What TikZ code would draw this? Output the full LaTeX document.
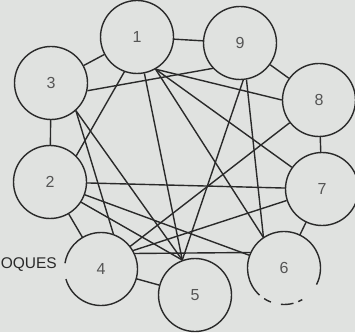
\documentclass[tikz,border=0pt]{standalone}
\usepackage{fontspec}
\setmainfont{Liberation Sans}
\usetikzlibrary{calc}
\definecolor{paper}{RGB}{224,226,224}
\definecolor{ink}{RGB}{42,42,42}
\tikzset{%
  % classes
  vertex/.style={circle, minimum size=73pt, inner sep=0pt,
    font=\fontsize{16}{18}\selectfont, text=ink!80},
  ring/.style={vertex, draw=ink, line width=1.4pt},
  bare/.style={vertex},
  % edge styles
  link/.style={draw=ink, line width=1.4pt},
  rim/.style={draw=ink, line width=1.4pt},
  tag/.style={font=\fontsize{15.5}{18}\selectfont, text=ink, anchor=east, inner sep=0pt},
}

\begin{document}
\begin{tikzpicture}[x=1pt, y=1pt]
  \fill[paper] (0,0) rectangle (355,332);
  \clip (0,0) rectangle (355,332);

  % Vertices
  \node[ring] (n1) at (137,295) {1};
  \node[ring] (n9) at (240,289) {9};
  \node[ring] (n8) at (319,232) {8};
  \node[ring] (n7) at (322,143) {7};
  \node[bare] (n6) at (284,64) {6};
  \node[ring] (n5) at (195,37) {5};
  \node[bare] (n4) at (101,63) {4};
  \node[ring] (n2) at (50,150) {2};
  \node[ring] (n3) at (51,249) {3};

  % broken rims
  \draw[rim] ([shift={(196:36.5pt)}]n4.center) arc[start angle=196, end angle=531, radius=36.5pt];
  \draw[rim] ([shift={(-27:36.5pt)}]n6.center) arc[start angle=-27, end angle=228, radius=36.5pt];
  \draw[rim] ([shift={(237:36.5pt)}]n6.center) arc[start angle=237, end angle=249, radius=36.5pt];
  \draw[rim] ([shift={(265:36.5pt)}]n6.center) arc[start angle=265, end angle=285, radius=36.5pt];
  \draw[rim] ([shift={(293:36.5pt)}]n6.center) arc[start angle=293, end angle=300, radius=36.5pt];

  \node[tag] (tag4) at (57,67) {OQUES};

  % Outer ring
  \draw[link] (n1) -- (n9);
  \draw[link] (n9) -- (n8);
  \draw[link] (n8) -- (n7);
  \draw[link] (n7) -- (n6);
  \draw[link] (n4) -- (n5);
  \draw[link] (n2) -- (n4);
  \draw[link] (n3) -- (n2);
  \draw[link] (n1) -- (n3);

  % Chords
  \draw[link] (n3.-12) -- (n9.223);
  \draw[link] (n1.-110) -- (n2.45);
  \draw[link] (n1) -- (n5.110);
  \draw[link] (n1.-60) -- (n6.124);
  \draw[link] (n1.-60) -- (n7);
  \draw[link] (n1.-60) -- (n8.180);
  \draw[link] (n3.-48) -- (n4.70);
  \draw[link] (n3.-48) -- (n5.110);
  \draw[link] (n2) -- (n7);
  \draw[link] (n2) -- (n6);
  \draw[link] (n2.-33) -- (n5.110);
  \draw[link] (n4) -- (n8);
  \draw[link] (n4.30) -- (n7);
  \draw[link] (n4.25) -- (n6.155);
  \draw[link] (n9.-85) -- (n5.110);
  \draw[link] (n9.-80) -- (n6.124);

\end{tikzpicture}
\end{document}
